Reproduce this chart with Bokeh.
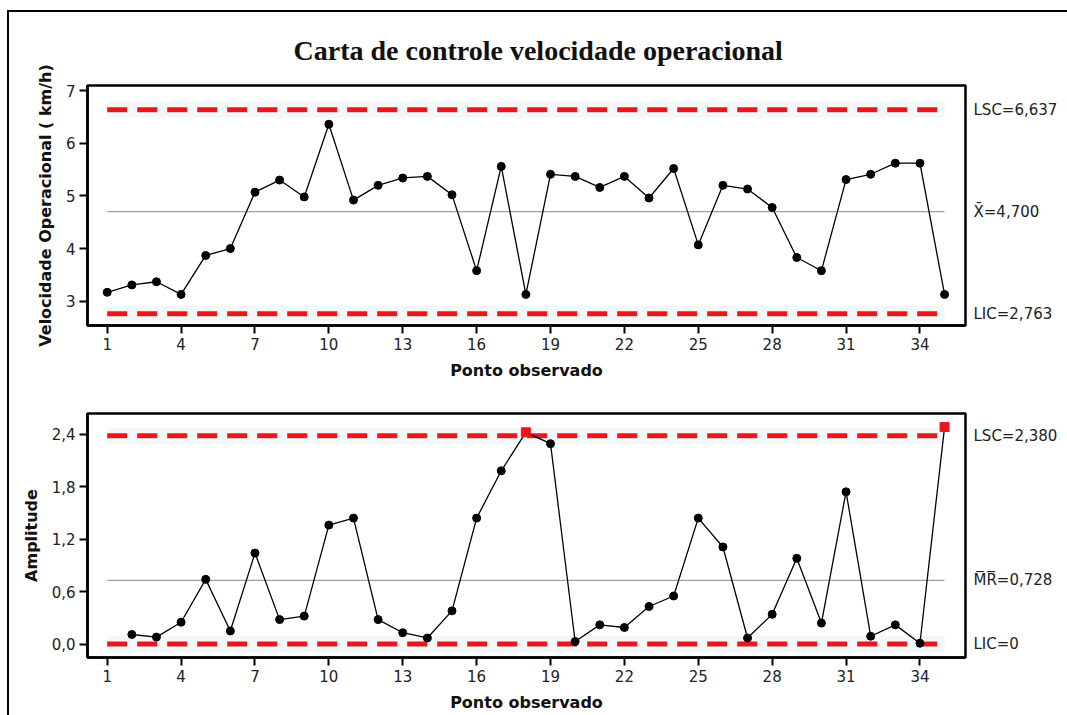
from bokeh.plotting import figure
from bokeh.layouts import column
from bokeh.models import FixedTicker, LinearAxis, Range1d
from bokeh.embed import file_html
from bokeh.resources import INLINE

# ---------------- data ----------------
pontos = list(range(1, 36))
velocidade = [3.17, 3.31, 3.37, 3.13, 3.87, 4.00, 5.07, 5.30, 4.98, 6.36,
              4.92, 5.20, 5.34, 5.37, 5.02, 3.58, 5.56, 3.13, 5.41, 5.37,
              5.16, 5.37, 4.96, 5.52, 4.07, 5.20, 5.13, 4.78, 3.83, 3.58,
              5.31, 5.41, 5.62, 5.62, 3.13]
pontos_mr = list(range(2, 36))
amplitude = [0.11, 0.08, 0.25, 0.74, 0.15, 1.04, 0.28, 0.32, 1.36, 1.44,
             0.28, 0.13, 0.07, 0.38, 1.44, 1.98, 2.42, 2.29, 0.03, 0.22,
             0.19, 0.43, 0.55, 1.44, 1.11, 0.07, 0.34, 0.98, 0.24, 1.74,
             0.09, 0.22, 0.01, 2.48]
fora_controle = [18, 35]
x_ticks = [1, 4, 7, 10, 13, 16, 19, 22, 25, 28, 31, 34]
y_ticks_x = [3, 4, 5, 6, 7]
y_ticks_mr = [0.0, 0.6, 1.2, 1.8, 2.4]
lsc_x, media_x, lic_x = 6.637, 4.700, 2.763
lsc_mr, media_mr, lic_mr = 2.380, 0.728, 0.0

titulo = "Carta de controle velocidade operacional"
RED = "#e8161d"
FONT = "DejaVu Sans"


def fmt(v, d=3):
    return f"{v:.{d}f}".replace(".", ",")


def style(p, yticks, ylabel):
    p.outline_line_color = "black"
    p.outline_line_width = 2.5
    p.xgrid.visible = False
    p.ygrid.visible = False
    p.background_fill_color = "white"
    p.border_fill_color = "white"
    p.xaxis.ticker = FixedTicker(ticks=x_ticks)
    p.yaxis.ticker = FixedTicker(ticks=yticks)
    p.xaxis.axis_label = "Ponto observado"
    p.yaxis.axis_label = ylabel
    for ax in (p.xaxis[0], p.yaxis[0]):
        ax.axis_line_width = 2.5
        ax.axis_line_color = "black"
        ax.major_tick_line_width = 2
        ax.major_tick_out = 8
        ax.major_tick_in = 0
        ax.minor_tick_line_color = None
        ax.major_label_text_font = FONT
        ax.major_label_text_font_size = "15px"
        ax.major_label_text_color = "#222222"
        ax.major_label_standoff = 4
        ax.axis_label_text_font = FONT
        ax.axis_label_text_font_size = "16px"
        ax.axis_label_text_font_style = "bold"
        ax.axis_label_text_color = "#111111"
        ax.axis_label_standoff = 8


def limits(p, lsc, media, lic, labels):
    xs = [pontos[0], pontos[-1]]
    for v in (lsc, lic):
        p.line(xs, [v, v], line_color="#f2f8f8", line_width=16)
    p.line(xs, [media, media], line_color="#a0a0a0", line_width=1.2)
    for v in (lsc, lic):
        p.line(xs, [v, v], line_color=RED, line_width=5, line_dash="20 10")
    right = LinearAxis(ticker=FixedTicker(ticks=[lic, media, lsc]),
                       major_label_overrides={lic: labels[0], media: labels[1], lsc: labels[2]},
                       axis_line_color=None, major_tick_line_color=None,
                       minor_tick_line_color=None, major_tick_out=0, major_tick_in=0,
                       major_label_standoff=8,
                       major_label_text_font=FONT, major_label_text_font_size="15px",
                       major_label_text_color="#222222")
    p.add_layout(right, "right")


W = 1058

p1 = figure(width=W, height=378, x_range=Range1d(0.2, 35.85), y_range=Range1d(2.54, 7.095),
            output_backend="svg", toolbar_location=None,
            min_border_left=78, min_border_right=102, min_border_top=73, min_border_bottom=65)
p1.title.text = titulo
p1.title.align = "left"
p1.title.offset = 206
p1.title.text_font = "Liberation Serif"
p1.title.text_font_size = "28px"
p1.title.text_font_style = "bold"
p1.title.text_color = "#111111"
p1.title.standoff = 39
style(p1, y_ticks_x, "Velocidade Operacional ( km/h)")
limits(p1, lsc_x, media_x, lic_x,
       [f"LIC={fmt(lic_x)}", f"X\u0304={fmt(media_x)}", f"LSC={fmt(lsc_x)}"])
p1.line(pontos, velocidade, line_color="black", line_width=1.3)
p1.scatter(pontos, velocidade, size=8, color="black")

p2 = figure(width=W, height=325, x_range=Range1d(0.2, 35.85), y_range=Range1d(-0.153, 2.635),
            output_backend="svg", toolbar_location=None,
            min_border_left=78, min_border_right=102, min_border_top=23, min_border_bottom=58)
style(p2, y_ticks_mr, "Amplitude")
p2.yaxis.major_label_overrides = {v: fmt(v, 1) for v in y_ticks_mr}
limits(p2, lsc_mr, media_mr, lic_mr,
       [f"LIC={lic_mr:g}", f"M\u0305R\u0305={fmt(media_mr)}", f"LSC={fmt(lsc_mr)}"])
p2.line(pontos_mr, amplitude, line_color="black", line_width=1.3)
normais = [(x, y) for x, y in zip(pontos_mr, amplitude) if x not in fora_controle]
fora = [(x, y) for x, y in zip(pontos_mr, amplitude) if x in fora_controle]
p2.scatter([a for a, _ in normais], [b for _, b in normais], size=8, color="black")
p2.scatter([a for a, _ in fora], [b for _, b in fora], marker="square", size=9, color=RED)

layout = column(p1, p2, margin=(10, 0, 0, 7),
                styles={"border-top": "2px solid black", "border-left": "2px solid black"})

open("out.html", "w").write(file_html(layout, INLINE))
